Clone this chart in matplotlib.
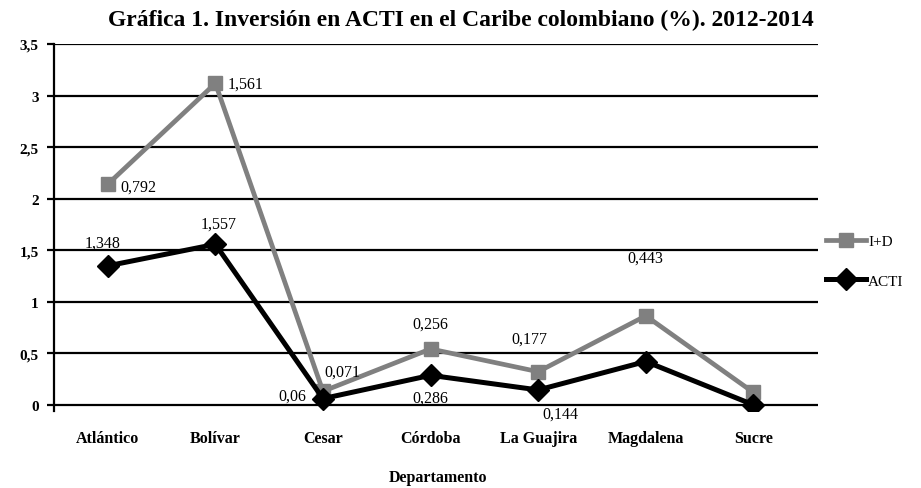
import matplotlib.pyplot as plt
import numpy as np

# Gráfica 1: inversión en ACTI en el Caribe colombiano
departamentos = ['Atlántico', 'Bolívar', 'Cesar', 'Córdoba', 'La Guajira', 'Magdalena', 'Sucre']
acti = [1.348, 1.557, 0.06, 0.286, 0.144, 0.42, 0.0]
iyd = [0.792, 1.561, 0.071, 0.256, 0.177, 0.443, 0.12]
etiquetas_acti = ['1,348', '1,557', '0,06', '0,286', '0,144', '', '']
etiquetas_iyd = ['0,792', '1,561', '0,071', '0,256', '0,177', '0,443', '']
ticks_y = [0, 0.5, 1, 1.5, 2, 2.5, 3, 3.5]
ticks_y_txt = ['0', '0,5', '1', '1,5', '2', '2,5', '3', '3,5']

plt.rcParams['font.family'] = ['Liberation Serif', 'DejaVu Serif']

x = np.arange(len(departamentos))
acti = np.array(acti)
apilado = acti + np.array(iyd)  # la serie I+D va apilada sobre ACTI

fig = plt.figure(figsize=(9.21, 4.89), dpi=100)
ax = fig.add_axes([0.0586, 0.1575, 0.8295, 0.7505])

for y in ticks_y:
    ax.axhline(y, color='black', lw=1.6, zorder=1)

ax.plot(x, apilado, color='#808080', lw=3.4, marker='s', ms=10.5, label='I+D', zorder=3)
ax.plot(x, acti, color='black', lw=3.6, marker='D', ms=11.5, label='ACTI', zorder=4)

# posiciones de las etiquetas (desplazamiento en puntos)
desp_iyd = [(22, -2), (22, 0), (14, 14), (0, 18), (-6, 24), (0, 42), (0, 0)]
desp_acti = [(-4, 17), (2, 15), (-22, 2), (0, -16), (16, -17), (0, 0), (0, 0)]
for i in range(len(x)):
    if etiquetas_iyd[i]:
        ax.annotate(etiquetas_iyd[i], (x[i], apilado[i]), xytext=desp_iyd[i],
                    textcoords='offset points', ha='center', va='center', fontsize=11.5)
    if etiquetas_acti[i]:
        ax.annotate(etiquetas_acti[i], (x[i], acti[i]), xytext=desp_acti[i],
                    textcoords='offset points', ha='center', va='center', fontsize=11.5)

ax.set_xlim(-0.5, 6.6)
ax.set_yticks(ticks_y)
ax.set_yticklabels(ticks_y_txt, fontweight='bold', fontsize=11)
ax.set_xticks(x)
ax.set_xticklabels(departamentos, fontweight='bold', fontsize=11.5)
ax.tick_params(axis='x', length=0, pad=14)
ax.tick_params(axis='y', length=5, width=1.6, direction='out', pad=6)
for lado in ['top', 'right', 'bottom']:
    ax.spines[lado].set_visible(False)
ax.spines['left'].set_linewidth(1.6)
ax.spines['left'].set_bounds(-0.06, 3.5)
ax.set_ylim(-0.06, 3.5)

fig.text(0.475, 0.022, 'Departamento', fontweight='bold', fontsize=11.5, ha='center', va='center')
fig.suptitle('Gráfica 1. Inversión en ACTI en el Caribe colombiano (%). 2012-2014',
             fontweight='bold', fontsize=17, x=0.5, y=0.98)

ax.legend(loc='center left', bbox_to_anchor=(0.897, 0.464), bbox_transform=fig.transFigure,
          frameon=False, fontsize=11, handlelength=2.6, handletextpad=0.15, labelspacing=1.7,
          borderpad=0, borderaxespad=0)

plt.savefig('out.png', dpi=100)
